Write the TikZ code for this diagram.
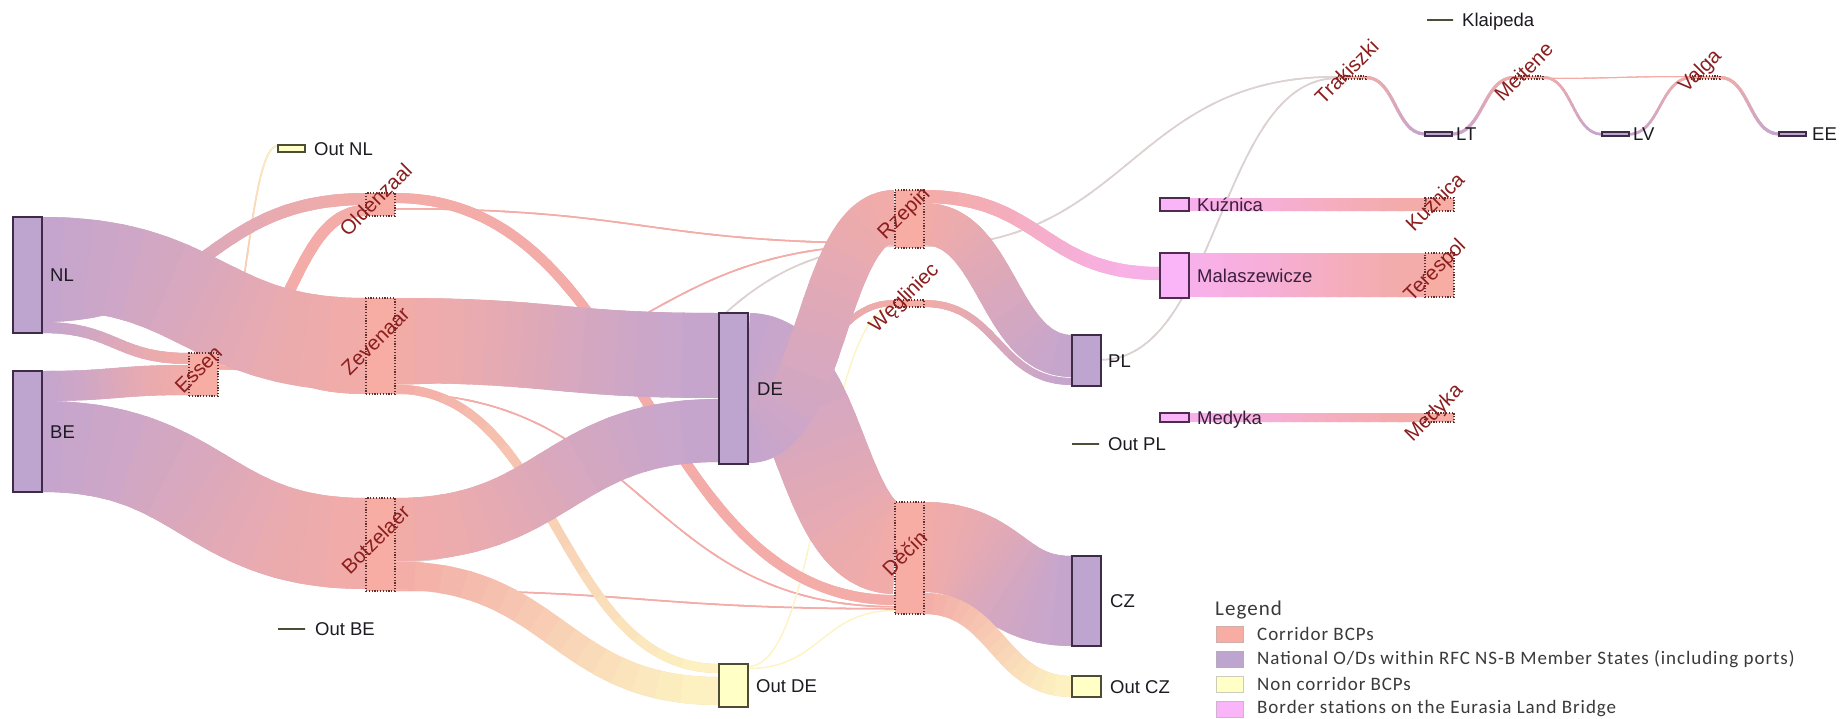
\documentclass[tikz,border=0pt]{standalone}
\usepackage{fontspec}
\setmainfont{Liberation Sans}
\newfontfamily\legendfont[LetterSpace=5]{Carlito}
\usetikzlibrary{calc}

\definecolor{natlfill}{HTML}{BEA5D0}
\definecolor{natledge}{HTML}{3D2B48}
\definecolor{bcpfill}{HTML}{F7ADA3}
\definecolor{bcpedge}{HTML}{5E3030}
\definecolor{noncfill}{HTML}{FFFFC6}
\definecolor{noncedge}{HTML}{4D4D35}
\definecolor{statfill}{HTML}{FAB4F8}
\definecolor{statedge}{HTML}{4F2A50}
\definecolor{flowN}{HTML}{C4A5CF}
\definecolor{flowB}{HTML}{F3ACA7}
\definecolor{flowY}{HTML}{FDF4C2}
\definecolor{flowS}{HTML}{F8B0EC}
\definecolor{flowG}{HTML}{DDD2D2}
\definecolor{labtext}{HTML}{1E1A22}
\definecolor{stattext}{HTML}{3B1E3D}
\definecolor{bcptext}{HTML}{8B1E1E}
\definecolor{legtext}{HTML}{3A3A3A}

\pgfdeclarelayer{bg}
\pgfdeclarelayer{flows}
\pgfsetlayers{bg,flows,main}

% number of colour steps along one band
\newcommand\bandsteps{16}
% \band{source}{offset at source}{target}{offset at target}{width}{colour at source}{colour at target}
\newcommand\band[7]{%
  \path ([yshift={-(#2)*1pt-(#5)*0.5pt}]#1.north east) coordinate (fa)
        ([yshift={-(#4)*1pt-(#5)*0.5pt}]#3.north west) coordinate (fb);
  \pgfpointanchor{fa}{center}\pgfgetlastxy{\fxa}{\fya}%
  \pgfpointanchor{fb}{center}\pgfgetlastxy{\fxb}{\fyb}%
  \pgfmathsetlengthmacro\fxm{(\fxa+\fxb)/2}%
  % whole band in the middle colour, under the colour steps
  \begin{pgfscope}%
    \pgfsetlinewidth{#5pt}%
    \pgfsetbuttcap
    \pgfsetstrokecolor{#7!50!#6}%
    \pgfpathmoveto{\pgfqpoint{\fxa}{\fya}}%
    \pgfpathcurveto{\pgfqpoint{\fxm}{\fya}}{\pgfqpoint{\fxm}{\fyb}}{\pgfqpoint{\fxb}{\fyb}}%
    \pgfusepath{stroke}%
  \end{pgfscope}%
  \foreach \k in {1,...,\bandsteps}{%
    \pgfmathsetmacro\fta{max((\k-1)/\bandsteps-0.02,0)}%
    \pgfmathsetmacro\ftb{\k/\bandsteps}%
    \pgfmathtruncatemacro\mixp{100*(\k-0.5)/\bandsteps}%
    \begin{pgfscope}%
      \pgfsetlinewidth{#5pt}%
      \pgfsetbuttcap
      \pgfsetstrokecolor{#7!\mixp!#6}%
      \pgfpathcurvebetweentime{\fta}{\ftb}{\pgfqpoint{\fxa}{\fya}}{\pgfqpoint{\fxm}{\fya}}{\pgfqpoint{\fxm}{\fyb}}{\pgfqpoint{\fxb}{\fyb}}%
      \pgfusepath{stroke}%
    \end{pgfscope}%
  }%
}

\begin{document}
\begin{tikzpicture}[x=1pt,y=-1pt,
  box/.style={anchor=north west, inner sep=0pt, outer sep=0pt, minimum width=29pt, line width=1.3pt},
  natl/.style={box, fill=natlfill, draw=natledge},
  bcpbox/.style={box, fill=bcpfill, draw=bcpedge, line width=1.2pt, dash pattern=on 1.2pt off 1.6pt},
  noncbox/.style={box, fill=noncfill, draw=noncedge},
  statbox/.style={box, fill=statfill, draw=statedge},
  lab/.style={anchor=west, inner sep=0pt, text height=13.3pt, text depth=0pt, text=labtext, font=\fontsize{18.5}{20}\selectfont},
  statlab/.style={lab, text=stattext},
  bcplab/.style={rotate=45, inner sep=0pt, text=bcptext, font=\fontsize{20.5}{22}\selectfont},
  swatch/.style={anchor=north west, inner sep=0pt, outer sep=0pt, minimum width=27pt, minimum height=16pt, line width=1pt},
  legitem/.style={anchor=west, inner sep=0pt, text=legtext, font=\legendfont\fontsize{19}{21}\selectfont}
]
\useasboundingbox (0,0) rectangle (1841,718);
\begin{pgfonlayer}{bg}
  \fill[white] (0,0) rectangle (1841,718);
\end{pgfonlayer}

% ---------------- nodes ----------------
\node[natl, minimum height=116pt] (NL) at (13,217) {};
\node[natl, minimum height=121pt] (BE) at (13,371) {};
\node[bcpbox, minimum height=43pt] (Essen) at (189,353) {};
\node[noncbox, minimum height=7pt, minimum width=27pt] (OutNL) at (278,145) {};
\node[noncbox, minimum height=0pt, minimum width=27pt] (OutBE) at (278,629) {};
\node[bcpbox, minimum height=23pt] (Oldenzaal) at (366,193) {};
\node[bcpbox, minimum height=96pt] (Zevenaar) at (366,298) {};
\node[bcpbox, minimum height=93pt] (Botzelaer) at (366,498) {};
\node[natl, minimum height=151pt] (DE) at (719,313) {};
\node[noncbox, minimum height=43pt] (OutDE) at (719,664) {};
\node[bcpbox, minimum height=58pt] (Rzepin) at (895,190) {};
\node[bcpbox, minimum height=7pt] (Wegliniec) at (895,300) {};
\node[bcpbox, minimum height=112pt] (Decin) at (895,502) {};
\node[natl, minimum height=51pt] (PL) at (1072,335) {};
\node[noncbox, minimum height=0pt, minimum width=27pt] (OutPL) at (1072,444) {};
\node[natl, minimum height=90pt] (CZ) at (1072,556) {};
\node[noncbox, minimum height=21pt] (OutCZ) at (1072,676) {};
\node[statbox, minimum height=13pt] (KuzS) at (1160,198) {};
\node[statbox, minimum height=45pt] (Malasz) at (1160,253) {};
\node[statbox, minimum height=9pt] (MedS) at (1160,413) {};
\node[bcpbox, minimum height=13pt] (KuzB) at (1425,198) {};
\node[bcpbox, minimum height=44pt] (Terespol) at (1425,253) {};
\node[bcpbox, minimum height=9pt] (MedB) at (1425,413) {};
\node[noncbox, minimum height=0pt, minimum width=26pt] (Klaipeda) at (1427,20) {};
\node[bcpbox, minimum height=3pt] (Trakiszki) at (1337,76) {};
\node[natl, minimum height=4pt, minimum width=27pt] (LT) at (1425,132) {};
\node[bcpbox, minimum height=3pt] (Meitene) at (1514,76) {};
\node[natl, minimum height=4pt, minimum width=27pt] (LV) at (1602,132) {};
\node[bcpbox, minimum height=3pt] (Valga) at (1691,76) {};
\node[natl, minimum height=4pt, minimum width=27pt] (EE) at (1779,132) {};

% ---------------- flows ----------------
\begin{pgfonlayer}{flows}
  % thin links
  \band{Essen}{0}{OutNL}{0}{1.5}{flowB}{flowY}
  \band{Oldenzaal}{15}{Rzepin}{52.5}{1.5}{flowB}{flowB}
  \band{Zevenaar}{85}{Rzepin}{54}{1.5}{flowB}{flowB}
  \band{Botzelaer}{63}{Rzepin}{55.5}{1.5}{flowG}{flowG}
  \band{Zevenaar}{94.5}{Decin}{104}{1.5}{flowB}{flowB}
  \band{Botzelaer}{91.5}{Decin}{106}{1.5}{flowB}{flowB}
  \band{OutDE}{2}{Wegliniec}{6}{1}{flowY}{flowY}
  \band{OutDE}{4}{Decin}{108}{1}{flowY}{flowY}
  \band{Rzepin}{55.5}{Trakiszki}{0}{1.5}{flowG}{flowG}
  \band{PL}{24}{Trakiszki}{1.5}{1.5}{flowG}{flowG}
  % medium links
  \band{Essen}{1.5}{Oldenzaal}{12}{11}{flowB}{flowB}
  \band{Essen}{12.5}{Zevenaar}{92}{4}{flowB}{flowB}
  \band{NL}{93}{Oldenzaal}{0}{12}{flowN}{flowB}
  \band{NL}{105}{Essen}{0}{11}{flowN}{flowB}
  \band{BE}{0}{Essen}{12}{30}{flowN}{flowB}
  \band{Oldenzaal}{0}{Decin}{93}{10}{flowB}{flowB}
  \band{Zevenaar}{86.5}{OutDE}{0}{9}{flowB}{flowY}
  \band{Botzelaer}{63.5}{OutDE}{13}{28}{flowB}{flowY}
  % main links
  \band{NL}{0}{Zevenaar}{0}{93}{flowN}{flowB}
  \band{BE}{30}{Botzelaer}{0}{91}{flowN}{flowB}
  \band{Zevenaar}{0}{DE}{0}{85}{flowB}{flowN}
  \band{Botzelaer}{0}{DE}{86}{63}{flowB}{flowN}
  \band{DE}{92}{Wegliniec}{0}{6}{flowN}{flowB}
  \band{DE}{0}{Decin}{0}{92}{flowN}{flowB}
  \band{DE}{98}{Rzepin}{0}{52}{flowN}{flowB}
  \band{Wegliniec}{0}{PL}{43}{7}{flowB}{flowN}
  \band{Rzepin}{13}{PL}{0}{42}{flowB}{flowN}
  \band{Rzepin}{0}{Malasz}{14}{13}{flowB}{flowS}
  \band{Decin}{0}{CZ}{0}{90}{flowB}{flowN}
  \band{Decin}{91}{OutCZ}{0}{21}{flowB}{flowY}
  \band{KuzS}{0}{KuzB}{0}{13}{flowS}{flowB}
  \band{Malasz}{0}{Terespol}{0}{44}{flowS}{flowB}
  \band{MedS}{0}{MedB}{0}{9}{flowS}{flowB}
  % Baltic links
  \band{Trakiszki}{0}{LT}{0.5}{3}{flowB}{flowN}
  \band{LT}{0.5}{Meitene}{0}{3}{flowN}{flowB}
  \band{Meitene}{2}{Valga}{0}{1}{flowB}{flowB}
  \band{Meitene}{0}{LV}{1}{2.5}{flowB}{flowN}
  \band{LV}{1}{Valga}{0.5}{2.5}{flowN}{flowB}
  \band{Valga}{0}{EE}{0.5}{3}{flowB}{flowN}
\end{pgfonlayer}

% ---------------- node labels ----------------
\node[lab] (NL-t) at ([xshift=8pt]NL.east) {NL};
\node[lab] (BE-t) at ([xshift=8pt]BE.east) {BE};
\node[lab] (OutNL-t) at ([xshift=9pt]OutNL.east) {Out NL};
\node[lab] (OutBE-t) at ([xshift=10pt]OutBE.east) {Out BE};
\node[lab] (DE-t) at ([xshift=9pt]DE.east) {DE};
\node[lab] (OutDE-t) at ([xshift=8pt]OutDE.east) {Out DE};
\node[lab] (PL-t) at ([xshift=7pt]PL.east) {PL};
\node[lab] (OutPL-t) at ([xshift=9pt]OutPL.east) {Out PL};
\node[lab] (CZ-t) at ([xshift=9pt]CZ.east) {CZ};
\node[lab] (OutCZ-t) at ([xshift=9pt]OutCZ.east) {Out CZ};
\node[statlab] (KuzS-t) at ([xshift=8pt]KuzS.east) {Kuźnica};
\node[statlab] (Malasz-t) at ([xshift=8pt]Malasz.east) {Malaszewicze};
\node[statlab] (MedS-t) at ([xshift=8pt]MedS.east) {Medyka};
\node[lab] (Klaipeda-t) at ([xshift=9pt]Klaipeda.east) {Klaipeda};
\node[lab] (LT-t) at ([xshift=4pt]LT.east) {LT};
\node[lab] (LV-t) at ([xshift=4pt]LV.east) {LV};
\node[lab] (EE-t) at ([xshift=6pt]EE.east) {EE};

% border crossing points, rotated labels
\node[bcplab] (Essen-t) at ([shift={(-5pt,5pt)}]Essen.center) {Essen};
\node[bcplab] (Oldenzaal-t) at ([shift={(-5pt,5pt)}]Oldenzaal.center) {Oldenzaal};
\node[bcplab] (Zevenaar-t) at ([shift={(-5pt,5pt)}]Zevenaar.center) {Zevenaar};
\node[bcplab] (Botzelaer-t) at ([shift={(-5pt,5pt)}]Botzelaer.center) {Botzelaer};
\node[bcplab] (Rzepin-t) at ([shift={(-5pt,5pt)}]Rzepin.center) {Rzepin};
\node[bcplab] (Wegliniec-t) at ([shift={(-5pt,5pt)}]Wegliniec.center) {Węgliniec};
\node[bcplab] (Decin-t) at ([shift={(-5pt,5pt)}]Decin.center) {Děčín};
\node[bcplab] (KuzB-t) at ([shift={(-5pt,3pt)}]KuzB.center) {Kuźnica};
\node[bcplab] (Terespol-t) at ([shift={(-4pt,4pt)}]Terespol.center) {Terespol};
\node[bcplab] (MedB-t) at ([shift={(-5pt,4pt)}]MedB.center) {Medyka};
\node[bcplab] (Trakiszki-t) at ([shift={(-5pt,6pt)}]Trakiszki.center) {Trakiszki};
\node[bcplab] (Meitene-t) at ([shift={(-5pt,6pt)}]Meitene.center) {Meitene};
\node[bcplab] (Valga-t) at ([shift={(-5pt,6pt)}]Valga.center) {Valga};

% ---------------- legend ----------------
\node[anchor=west, inner sep=0pt, text=legtext, font=\legendfont\fontsize{21}{23}\selectfont] (legtitle) at (1215,610) {Legend};
\node[swatch, fill=bcpfill, draw=bcpfill!70!black!60] (sw1) at (1216,626) {};
\node[swatch, fill=natlfill, draw=natlfill!70!black!60] (sw2) at (1216,651) {};
\node[swatch, fill=noncfill, draw=noncfill!60!black!50] (sw3) at (1216,676) {};
\node[swatch, fill=statfill, draw=statfill!70!black!60] (sw4) at (1216,701) {};
\node[legitem] (lg1) at ([xshift=14pt]sw1.east) {Corridor BCPs};
\node[legitem] (lg2) at ([xshift=14pt]sw2.east) {National O/Ds within RFC NS-B Member States (including ports)};
\node[legitem] (lg3) at ([xshift=14pt]sw3.east) {Non corridor BCPs};
\node[legitem] (lg4) at ([xshift=14pt]sw4.east) {Border stations on the Eurasia Land Bridge};
\end{tikzpicture}
\end{document}
